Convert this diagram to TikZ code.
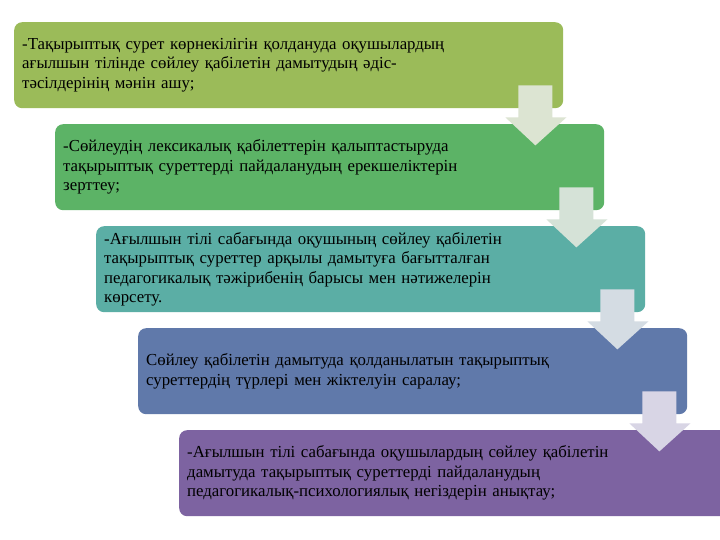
\documentclass[tikz,border=0pt]{standalone}
\usepackage{fontspec}
\setmainfont{Liberation Serif}
\usetikzlibrary{calc}
\definecolor{cA}{HTML}{9BBB59}
\definecolor{cB}{HTML}{5CB366}
\definecolor{cC}{HTML}{5BAEA5}
\definecolor{cD}{HTML}{6079AA}
\definecolor{cE}{HTML}{7D63A1}
\definecolor{aA}{HTML}{DCE4D2}
\definecolor{aB}{HTML}{D5E2D7}
\definecolor{aC}{HTML}{D4DCE3}
\definecolor{aD}{HTML}{D8D5E5}
\tikzset{
  stepbox/.style={rounded corners=8bp, draw=none, anchor=north west,
    minimum width=549bp, minimum height=86bp, text width=533bp,
    inner xsep=8bp, inner ysep=0pt, align=left,
    font=\fontsize{16.8bp}{19.5bp}\selectfont, text=black}
}
\newcommand{\stepdown}[2]{%
  \fill[#2] ($(#1.south east)+(-45,-23)$) -- ++(34,0) -- ++(0,32) -- ++(14,0)
    -- ++(-31,28) -- ++(-30,-28) -- ++(13,0) -- cycle;}
\begin{document}
\begin{tikzpicture}[x=1bp,y=-1bp]
\useasboundingbox (0,0) rectangle (720,540);
\clip (0,0) rectangle (720,540);
\fill[white] (0,0) rectangle (720,540);
\node[stepbox, fill=cA] (b1) at (14,22) {-Тақырыптық сурет көрнекілігін қолдануда оқушылардың\\ағылшын тілінде сөйлеу қабілетін дамытудың әдіс-\\тәсілдерінің мәнін ашу;};
\node[stepbox, fill=cB] (b2) at (55,124) {-Сөйлеудің лексикалық қабілеттерін қалыптастыруда\\тақырыптық суреттерді пайдаланудың ерекшеліктерін\\зерттеу;};
\node[stepbox, fill=cC] (b3) at (96,226) {-Ағылшын тілі сабағында оқушының сөйлеу қабілетін\\тақырыптық суреттер арқылы дамытуға бағытталған\\педагогикалық тәжірибенің барысы мен нәтижелерін\\көрсету.};
\node[stepbox, fill=cD] (b4) at (138,328) {Сөйлеу қабілетін дамытуда қолданылатын тақырыптық\\суреттердің түрлері мен жіктелуін саралау;};
\node[stepbox, fill=cE] (b5) at (179,430) {-Ағылшын тілі сабағында оқушылардың сөйлеу қабілетін\\дамытуда тақырыптық суреттерді пайдаланудың\\педагогикалық-психологиялық негіздерін анықтау;};
\stepdown{b1}{aA}
\stepdown{b2}{aB}
\stepdown{b3}{aC}
\stepdown{b4}{aD}
\end{tikzpicture}
\end{document}
